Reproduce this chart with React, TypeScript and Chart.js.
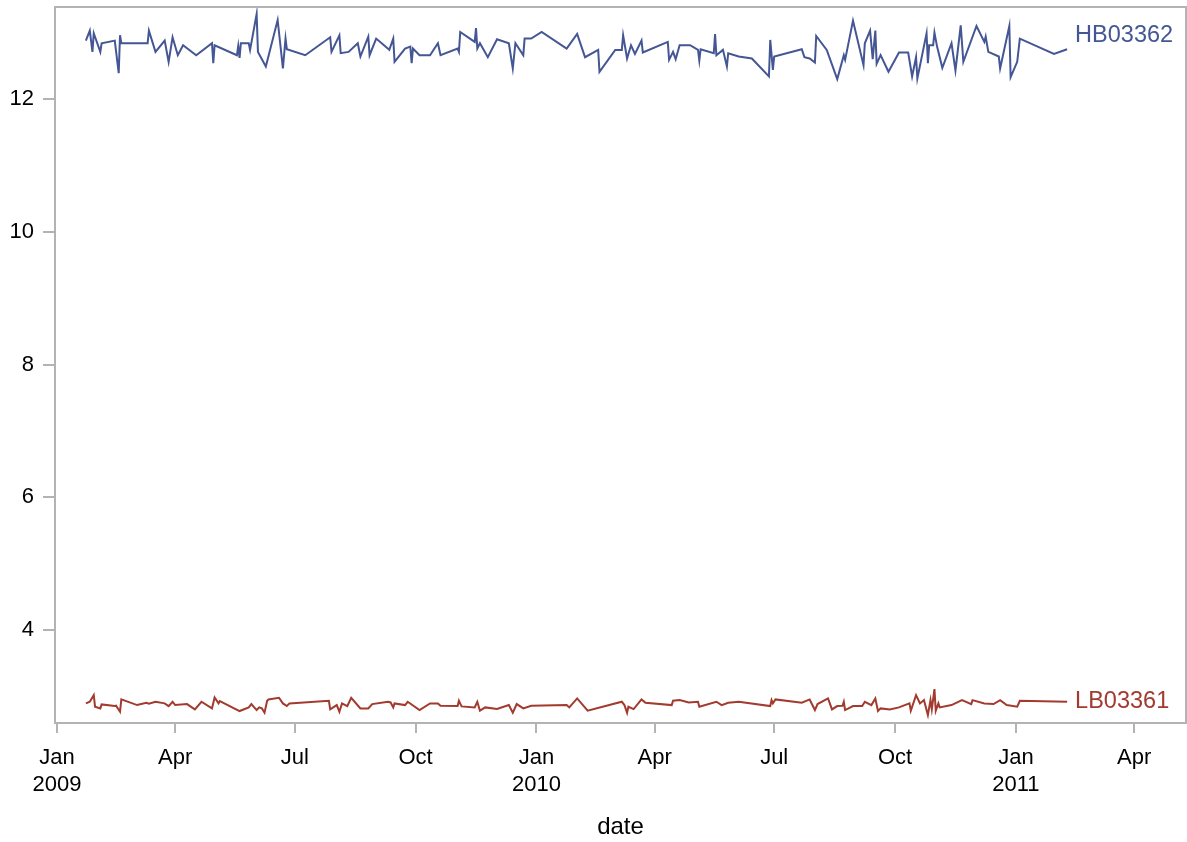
import React, { useEffect, useRef } from "react";
import { Chart, registerables } from "chart.js";

Chart.register(...registerables);

// x values: days since 2009-01-01
const hbDays = [
  22, 25, 27, 28, 33, 34, 44, 47, 48, 49, 69, 70, 75, 82, 85, 88, 92, 96, 106, 118,
  119, 120, 137, 138, 139, 140, 146, 147, 152, 153, 159, 168, 172, 174, 175, 189, 208, 209, 215, 216,
  222, 229, 231, 237, 238, 243, 253, 256, 257, 265, 269, 270, 271, 276, 284, 290, 292, 305, 306, 307,
  318, 319, 320, 322, 328, 335, 344, 347, 349, 355, 356, 361, 369, 388, 396, 402, 412, 413, 425, 430,
  431, 434, 437, 440, 445, 446, 465, 466, 469, 471, 474, 482, 488, 489, 490, 500, 501, 502, 507, 510,
  511, 519, 529, 542, 543, 545, 546, 567, 569, 573, 577, 578, 586, 594, 599, 600, 606, 614, 615, 619,
  621, 623, 624, 627, 633, 641, 648, 651, 654, 655, 662, 663, 664, 667, 668, 670, 674, 681, 684, 688,
  690, 700, 706, 707, 709, 717, 718, 725, 726, 731, 733, 759, 769,
];
const hbValues = [
  12.88, 13.03, 12.71, 12.99, 12.71, 12.84, 12.88, 12.39, 12.96, 12.84, 12.84, 13.03, 12.71, 12.88, 12.56, 12.93, 12.66, 12.81, 12.66, 12.84,
  12.54, 12.81, 12.66, 12.8, 12.62, 12.84, 12.84, 12.74, 13.28, 12.71, 12.49, 13.19, 12.46, 12.91, 12.75, 12.66, 12.93, 12.71, 12.96, 12.69,
  12.71, 12.84, 12.64, 12.94, 12.66, 12.91, 12.74, 12.91, 12.56, 12.76, 12.79, 12.54, 12.76, 12.66, 12.66, 12.84, 12.66, 12.76, 12.71, 13.01,
  12.86, 13.07, 12.76, 12.84, 12.63, 12.9, 12.84, 12.46, 12.84, 12.66, 12.91, 12.91, 13.01, 12.76, 12.98, 12.63, 12.74, 12.41, 12.74, 12.74,
  12.96, 12.61, 12.81, 12.68, 12.88, 12.7, 12.86, 12.59, 12.71, 12.6, 12.81, 12.81, 12.74, 12.58, 12.75, 12.69, 12.98, 12.66, 12.74, 12.49,
  12.69, 12.64, 12.61, 12.34, 12.89, 12.44, 12.64, 12.75, 12.63, 12.61, 12.55, 12.95, 12.74, 12.3, 12.66, 12.59, 13.18, 12.51, 12.84, 13.03,
  12.6, 13.03, 12.53, 12.66, 12.41, 12.7, 12.7, 12.34, 12.63, 12.31, 12.99, 12.54, 12.81, 12.81, 13.0, 12.79, 12.47, 12.84, 12.43, 13.11,
  12.56, 13.1, 12.86, 12.94, 12.71, 12.64, 12.46, 13.1, 12.33, 12.56, 12.91, 12.68, 12.75,
];

const lbDays = [
  22, 25, 28, 29, 33, 34, 44, 45, 48, 49, 61, 68, 70, 75, 82, 85, 88, 90, 99, 105,
  110, 118, 120, 123, 124, 127, 139, 146, 148, 152, 154, 156, 158, 160, 161, 169, 172, 175, 177, 207,
  208, 213, 215, 217, 221, 224, 231, 237, 240, 252, 254, 256, 257, 265, 267, 276, 284, 290, 292, 305,
  306, 308, 318, 320, 322, 326, 335, 344, 347, 350, 355, 361, 388, 390, 396, 404, 430, 432, 434, 435,
  439, 445, 448, 468, 469, 474, 481, 488, 489, 502, 506, 511, 519, 543, 544, 545, 547, 567, 573, 577,
  579, 587, 590, 594, 598, 599, 600, 606, 613, 615, 620, 623, 625, 627, 634, 641, 649, 650, 654, 657,
  660, 663, 665, 666, 668, 669, 671, 672, 681, 689, 696, 697, 706, 713, 718, 723, 731, 733, 769,
];
const lbValues = [
  2.896, 2.92, 3.02, 2.845, 2.82, 2.88, 2.855, 2.86, 2.77, 2.956, 2.87, 2.905, 2.89, 2.92, 2.896, 2.855, 2.92, 2.87, 2.885, 2.805,
  2.92, 2.82, 2.985, 2.895, 2.93, 2.9, 2.78, 2.835, 2.885, 2.795, 2.835, 2.82, 2.755, 2.935, 2.955, 2.98, 2.895, 2.855, 2.895, 2.935,
  2.805, 2.87, 2.77, 2.895, 2.855, 2.98, 2.82, 2.82, 2.885, 2.92, 2.91, 2.835, 2.895, 2.87, 2.92, 2.795, 2.895, 2.895, 2.86, 2.855,
  2.935, 2.85, 2.835, 2.92, 2.785, 2.835, 2.81, 2.87, 2.755, 2.885, 2.82, 2.86, 2.87, 2.835, 2.97, 2.785, 2.92, 2.87, 2.755, 2.845,
  2.81, 2.955, 2.905, 2.87, 2.935, 2.945, 2.91, 2.92, 2.845, 2.92, 2.87, 2.905, 2.92, 2.855, 2.945, 2.895, 2.955, 2.905, 2.955, 2.795,
  2.885, 2.97, 2.805, 2.855, 2.86, 2.92, 2.795, 2.855, 2.855, 2.92, 2.87, 2.97, 2.78, 2.82, 2.805, 2.835, 2.895, 2.785, 3.02, 2.895,
  2.945, 2.72, 2.945, 2.805, 3.11, 2.785, 2.895, 2.835, 2.87, 2.945, 2.885, 2.945, 2.895, 2.885, 2.945, 2.87, 2.845, 2.935, 2.92,
];

const seriesNames = ["HB03362", "LB03361"];
const seriesColors = ["#445694", "#A23A2E"];

const xTickDays = [0, 90, 181, 273, 365, 455, 546, 638, 730, 820];
const xTickLabels: (string | string[])[] = [
  ["Jan", "2009"], "Apr", "Jul", "Oct", ["Jan", "2010"], "Apr", "Jul", "Oct", ["Jan", "2011"], "Apr",
];
const yTickValues = [4, 6, 8, 10, 12];

const X_MIN = -1.5;
const X_MAX = 859.5;
const Y_MIN = 2.6;
const Y_MAX = 13.386;

const FONT = "'Liberation Sans', Arial, Helvetica, sans-serif";
const FRAME = "#b3b3b3";

const framePlugin = {
  id: "frame",
  afterDatasetsDraw(chart: any) {
    const { ctx, chartArea } = chart;
    ctx.save();
    ctx.strokeStyle = FRAME;
    ctx.lineWidth = 2;
    ctx.strokeRect(chartArea.left, chartArea.top, chartArea.right - chartArea.left, chartArea.bottom - chartArea.top);
    ctx.restore();
  },
};

const curveLabelPlugin = {
  id: "curveLabels",
  afterDatasetsDraw(chart: any) {
    const { ctx } = chart;
    chart.data.datasets.forEach((ds: any, i: number) => {
      const meta = chart.getDatasetMeta(i);
      const last = meta.data[meta.data.length - 1];
      if (!last) return;
      ctx.save();
      ctx.font = `23.5px ${FONT}`;
      ctx.fillStyle = ds.borderColor;
      ctx.textAlign = "left";
      ctx.textBaseline = "middle";
      ctx.fillText(ds.label, last.x + 8, last.y + (ds.labelDy || 0));
      ctx.restore();
    });
  },
};

export default function App() {
  const ref = useRef<HTMLCanvasElement>(null);

  useEffect(() => {
    if (!ref.current) return;
    const chart = new Chart(ref.current, {
      type: "line",
      data: {
        datasets: [
          {
            label: seriesNames[0],
            data: hbDays.map((d, i) => ({ x: d, y: hbValues[i] })),
            borderColor: seriesColors[0],
            borderWidth: 2,
            pointRadius: 0,
            tension: 0,
            labelDy: -14,
          } as any,
          {
            label: seriesNames[1],
            data: lbDays.map((d, i) => ({ x: d, y: lbValues[i] })),
            borderColor: seriesColors[1],
            borderWidth: 2,
            pointRadius: 0,
            tension: 0,
            labelDy: 0,
          } as any,
        ],
      },
      options: {
        animation: false,
        responsive: false,
        parsing: false as any,
        layout: { padding: { top: 7, right: 1, left: 0, bottom: 0 } },
        plugins: {
          legend: { display: false },
          tooltip: { enabled: false },
        },
        scales: {
          x: {
            type: "linear",
            min: X_MIN,
            max: X_MAX,
            afterBuildTicks: (scale: any) => {
              scale.ticks = xTickDays.map((v) => ({ value: v }));
            },
            afterFit: (scale: any) => {
              scale.height = 119;
              scale.paddingLeft = 0;
              scale.paddingRight = 0;
            },
            border: { display: false },
            grid: {
              display: true,
              drawOnChartArea: false,
              drawTicks: true,
              tickLength: 10,
              color: FRAME,
              lineWidth: 2,
            },
            ticks: {
              autoSkip: false,
              maxRotation: 0,
              minRotation: 0,
              padding: 11,
              color: "#000",
              font: { family: FONT, size: 22, lineHeight: 1.23 },
              callback: (_v: any, index: number) => xTickLabels[index],
            },
            title: {
              display: true,
              text: "date",
              color: "#000",
              font: { family: FONT, size: 24 },
              padding: { top: 0, bottom: 0 },
            },
          },
          y: {
            type: "linear",
            min: Y_MIN,
            max: Y_MAX,
            afterBuildTicks: (scale: any) => {
              scale.ticks = yTickValues.map((v) => ({ value: v }));
            },
            afterFit: (scale: any) => {
              scale.width = 55;
              scale.paddingTop = 0;
              scale.paddingBottom = 0;
            },
            border: { display: false },
            grid: {
              display: true,
              drawOnChartArea: false,
              drawTicks: true,
              tickLength: 12,
              color: FRAME,
              lineWidth: 2,
            },
            ticks: {
              padding: 9,
              color: "#000",
              font: { family: FONT, size: 22 },
              callback: (v: any) => String(v),
            },
          },
        },
      },
      plugins: [framePlugin, curveLabelPlugin],
    });
    return () => chart.destroy();
  }, []);

  return (
    <div style={{ position: "fixed", left: 0, top: 0, width: 1187, height: 842, background: "#fff" }}>
      <canvas ref={ref} width={1187} height={842} style={{ display: "block" }} />
    </div>
  );
}
